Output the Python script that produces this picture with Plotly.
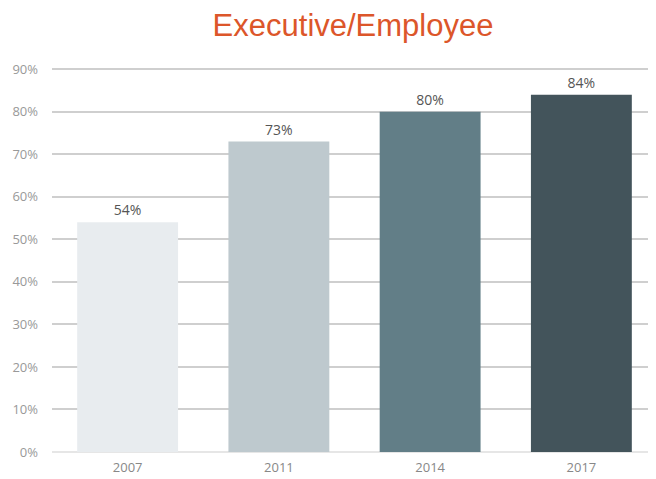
import plotly.graph_objects as go

years = ["2007", "2011", "2014", "2017"]
values = [54, 73, 80, 84]
colors = ["#E8ECEF", "#BEC9CE", "#627E87", "#43545B"]
tick_vals = [0, 10, 20, 30, 40, 50, 60, 70, 80, 90]
tick_text = [f"{v}%" for v in tick_vals]

fig = go.Figure(go.Bar(
    x=years, y=values,
    marker=dict(color=colors, line=dict(width=0)),
    text=[f"{v}%" for v in values],
    textposition="outside",
    textfont=dict(family="Open Sans", size=14, color="#555555"),
    cliponaxis=False,
))

fig.update_layout(
    width=656, height=479,
    margin=dict(l=44, r=7, t=60, b=35),
    paper_bgcolor="white", plot_bgcolor="white",
    bargap=0.333,
    showlegend=False,
    title=dict(text="Executive/Employee", x=0.526, xref="container", xanchor="center",
               y=0.9645, yref="container", yanchor="middle",
               font=dict(family="Liberation Sans", size=31, color="#DC562A")),
    xaxis=dict(tickfont=dict(family="Open Sans", size=13, color="#888888"),
               showgrid=False, showline=False, ticks="", automargin=False,
               ticklabelstandoff=6),
    yaxis=dict(range=[0, 90.3], tickvals=tick_vals, ticktext=tick_text,
               tickfont=dict(family="Open Sans", size=13, color="#999999"),
               showgrid=True, gridcolor="#CFCFCF", gridwidth=1.5,
               zeroline=True, zerolinecolor="#E6E6E6", zerolinewidth=1.5,
               ticklabelstandoff=13, showline=False, automargin=False),
)

fig.write_html("out.html")
